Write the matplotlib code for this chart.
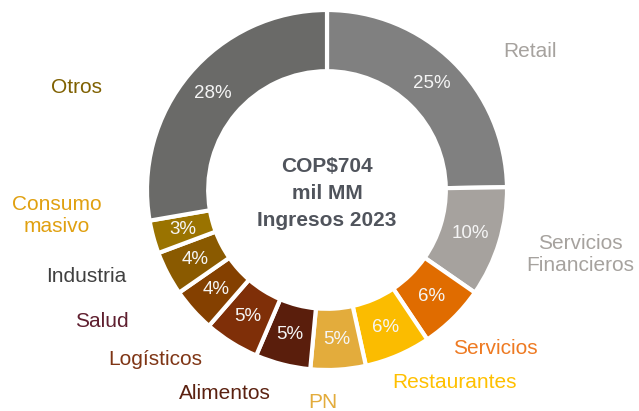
import matplotlib
matplotlib.use("Agg")
import matplotlib.pyplot as plt
import numpy as np

# ---- data ----
categories = ["Retail", "Servicios\nFinancieros", "Servicios", "Restaurantes", "PN",
              "Alimentos", "Logísticos", "Salud", "Industria", "Consumo\nmasivo", "Otros"]
shares = [25, 10, 6, 6, 5, 5, 5, 4, 4, 3, 28]
pct_labels = ["25%", "10%", "6%", "6%", "5%", "5%", "5%", "4%", "4%", "3%", "28%"]
center_lines = ["COP$704", "mil MM", "Ingresos 2023"]

# ---- styles / layout ----
wedge_colors = ["#808080", "#A6A29E", "#E06C00", "#FBBC00", "#E3AC3C",
                "#5A1E0C", "#7F2F08", "#844000", "#8A5A00", "#9A7300", "#6A6A68"]
label_colors = ["#A6A29E", "#A6A29E", "#EE7A22", "#FFC000", "#E3AC3C",
                "#5B2110", "#7F3515", "#5F1F2F", "#404040", "#E0A010", "#7F6000"]
label_pos = [(1.128, 0.767), (1.406, -0.361), (0.933, -0.883), (0.706, -1.072),
             (-0.022, -1.183), (-0.567, -1.133), (-0.956, -0.944), (-1.25, -0.728),
             (-1.339, -0.478), (-1.5, -0.144), (-1.389, 0.572)]

plt.rcParams['font.family'] = ['Liberation Sans', 'DejaVu Sans']

fig = plt.figure(figsize=(6.39, 4.11), dpi=100)
ax = fig.add_axes([0, 0, 1, 1])

wedges, _ = ax.pie(shares, colors=wedge_colors, startangle=90, counterclock=False,
                   radius=1.0, center=(0, 0), frame=True,
                   wedgeprops=dict(width=0.34, edgecolor='white', linewidth=3))
ax.set_xlim(-327/180, (639-327)/180)
ax.set_ylim((190-411)/180, 190/180)
ax.set_aspect('equal')
ax.axis('off')

for w, txt in zip(wedges, pct_labels):
    ang = np.deg2rad((w.theta1 + w.theta2) / 2)
    r = 0.83
    ax.text(r*np.cos(ang), r*np.sin(ang), txt, ha='center', va='center',
            fontsize=13.5, color='#F5F5F5')

for (x, y), lab, col in zip(label_pos, categories, label_colors):
    ax.text(x, y, lab, ha='center', va='center', fontsize=15, color=col,
            linespacing=1.2)

for y, line in zip([0.133, -0.017, -0.172], center_lines):
    ax.text(0, y, line, ha='center', va='center', fontsize=15, fontweight='bold',
            color='#50545C')

fig.savefig("out.png", dpi=100)
